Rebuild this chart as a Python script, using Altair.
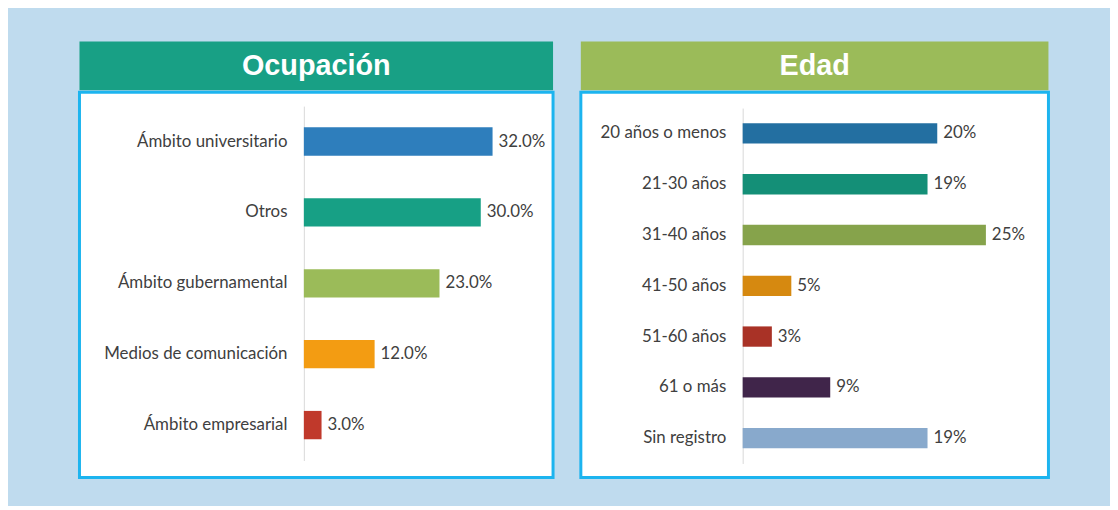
import altair as alt
import pandas as pd

# ---- data ----
occ_title = "Ocupación"
occ_cats = ["Ámbito universitario", "Otros", "Ámbito gubernamental",
            "Medios de comunicación", "Ámbito empresarial"]
occ_vals = [0.32, 0.30, 0.23, 0.12, 0.03]

age_title = "Edad"
age_cats = ["20 años o menos", "21-30 años", "31-40 años", "41-50 años",
            "51-60 años", "61 o más", "Sin registro"]
age_vals = [0.20, 0.19, 0.25, 0.05, 0.03, 0.09, 0.19]

# ---- styles ----
occ_colors = ["#2e7ebc", "#17a085", "#9bbb59", "#f39c12", "#c0392b"]
age_colors = ["#236fa1", "#148f77", "#86a34b", "#d68910", "#a93226", "#40254a", "#88a9cc"]
BG = "#bfdbee"
BORDER = "#1cb4ef"
TXT = "#404040"
LABEL_FONT = "Lato"
LABEL_SIZE = 17


def panel(title, head_color, cats, vals, colors, fmt, width, axis_x, px_per_unit, xmax, y_range):
    df = pd.DataFrame({"cat": cats, "val": vals})
    base = alt.Chart(df).properties(
        width=width, height=388,
        view=alt.ViewBackground(fill="white", stroke=BORDER, strokeWidth=3),
    )
    y = alt.Y(
        "cat:N", sort=cats,
        scale=alt.Scale(range=y_range, paddingInner=0.6, paddingOuter=0.3),
        axis=alt.Axis(title=None, offset=-axis_x, ticks=False, grid=False,
                      domainColor="#d9d9d9", domainWidth=1, labelPadding=17,
                      labelFont=LABEL_FONT, labelFontSize=LABEL_SIZE, labelColor=TXT,
                      labelLimit=400),
    )
    x = alt.X("val:Q",
              scale=alt.Scale(domain=[0, xmax], range=[axis_x, axis_x + px_per_unit * xmax]),
              axis=None)
    bars = base.mark_bar().encode(
        x=x, y=y,
        color=alt.Color("cat:N", scale=alt.Scale(domain=cats, range=colors), legend=None),
    )
    labels = base.mark_text(align="left", dx=6, font=LABEL_FONT, fontSize=LABEL_SIZE,
                            color=TXT).encode(
        x=x, y=y, text=alt.Text("val:Q", format=fmt)
    )
    box = alt.layer(bars, labels)
    head = alt.Chart(pd.DataFrame({"t": [title]})).mark_text(
        font="Liberation Sans", fontWeight="bold", fontSize=29, color="white", baseline="middle"
    ).encode(
        text="t:N", x=alt.value(width / 2), y=alt.value(25)
    ).properties(width=width, height=49,
                 view=alt.ViewBackground(fill=head_color, stroke=head_color, strokeWidth=0))
    return alt.vconcat(head, box, spacing=0)


left = panel(occ_title, "#18a085", occ_cats, occ_vals, occ_colors, ".1%",
             477, 226, 594, 0.40, [14, 371])
right = panel(age_title, "#9bbb59", age_cats, age_vals, age_colors, ".0%",
              471, 163, 980, 0.30, [16, 374])

chart = alt.hconcat(left, right, spacing=24).resolve_scale(
    color="independent", x="independent", y="independent"
).properties(
    padding={"left": 70, "top": 32, "right": 60, "bottom": 25},
    background=BG,
).configure_view(stroke="transparent").configure_concat(spacing=0)

chart.save("out.html", embed_options={"renderer": "svg", "actions": False})
